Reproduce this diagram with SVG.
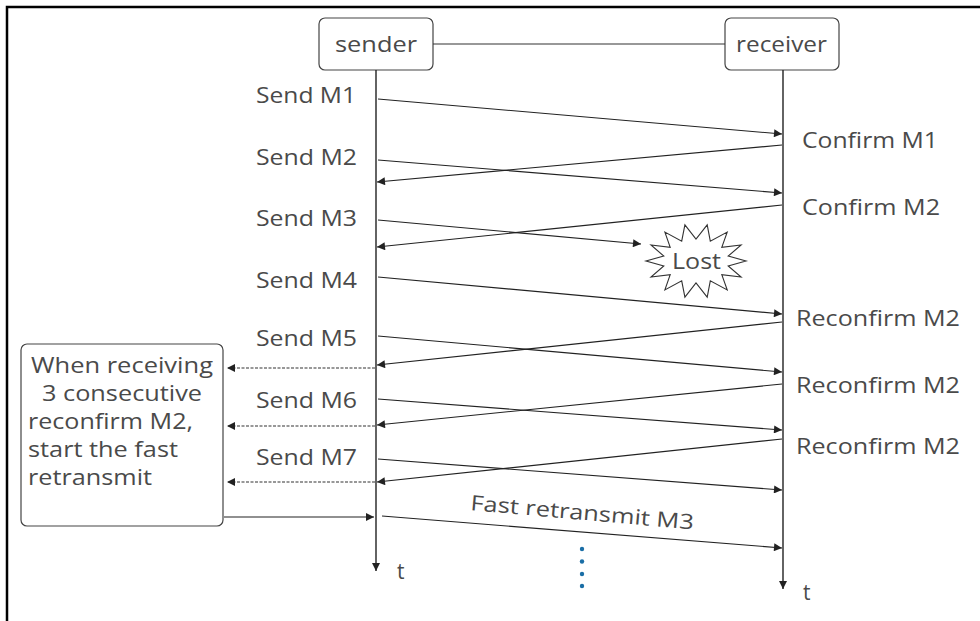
<svg xmlns="http://www.w3.org/2000/svg" width="980" height="621" viewBox="0 0 980 621">
  <defs>
    <marker id="arrow" viewBox="0 0 10 10" refX="10" refY="5" markerWidth="9" markerHeight="8" markerUnits="userSpaceOnUse" orient="auto">
      <path d="M0,0 L10,5 L0,10 z" fill="#222"/>
    </marker>
    <style>
      text { font-family: "Open Sans", "Noto Sans", "Liberation Sans", sans-serif; font-size: 21px; fill: #4a4a4a; }
      .note text { font-size: 22px; }
      .box { fill: #fff; stroke: #444; stroke-width: 1.2; }
      .msg { stroke: #222; stroke-width: 1.1; fill: none; marker-end: url(#arrow); }
      .dash { stroke: #333; stroke-width: 1.1; fill: none; stroke-dasharray: 3 1.5; marker-end: url(#arrow); }
      .life { stroke: #222; stroke-width: 1.4; fill: none; marker-end: url(#arrow); }
      .dot { fill: #1a6ea6; }
    </style>
  </defs>

  <rect width="980" height="621" fill="#fff"/>
  <!-- frame (open on the right and bottom) -->
  <rect x="7" y="7" width="1000" height="700" fill="none" stroke="#000" stroke-width="2.5"/>

  <!-- participants -->
  <g id="sender">
    <rect class="box" x="319" y="18" width="114" height="52" rx="6"/>
    <text x="335" y="52" textLength="82" lengthAdjust="spacingAndGlyphs">sender</text>
  </g>
  <g id="receiver">
    <rect class="box" x="725" y="18" width="114" height="52" rx="6"/>
    <text x="736" y="52" textLength="91" lengthAdjust="spacingAndGlyphs">receiver</text>
  </g>
  <g id="note" class="note">
    <rect class="box" x="21" y="344" width="202" height="182" rx="6"/>
    <text x="31" y="373" textLength="182" lengthAdjust="spacingAndGlyphs">When receiving</text>
    <text x="42" y="401" textLength="160" lengthAdjust="spacingAndGlyphs">3 consecutive</text>
    <text x="28" y="429" textLength="165" lengthAdjust="spacingAndGlyphs">reconfirm M2,</text>
    <text x="28" y="457" textLength="150" lengthAdjust="spacingAndGlyphs">start the fast</text>
    <text x="28" y="485" textLength="124" lengthAdjust="spacingAndGlyphs">retransmit</text>
  </g>
  <g id="lost">
    <polygon points="746,261 728.2,265.9 741.1,277.1 721.8,274.7 727.2,289.9 710.3,280.8 707.2,297.1 696,283 684.9,297.1 681.7,280.8 664.9,289.9 670.2,274.7 651,277.1 663.8,265.9 646,261 663.8,256.1 651,244.9 670.2,247.3 664.9,232.1 681.7,241.2 684.9,224.9 696,239 707.2,224.9 710.3,241.2 727.2,232.1 721.8,247.3 741.1,244.9 728.2,256.1" fill="#fff" stroke="#333" stroke-width="1.1"/>
    <text x="672" y="269" textLength="49" lengthAdjust="spacingAndGlyphs">Lost</text>
  </g>

  <!-- connectors -->
  <g id="connectors">
    <line x1="433" y1="44" x2="725" y2="44" stroke="#333" stroke-width="1.1"/>
    <line class="life" x1="376" y1="70" x2="376" y2="571"/>
    <line class="life" x1="783" y1="70" x2="783" y2="589"/>

    <!-- sender to receiver -->
    <line class="msg" x1="378" y1="99" x2="782" y2="134"/>
    <line class="msg" x1="378" y1="160" x2="782" y2="193"/>
    <line class="msg" x1="378" y1="220" x2="641" y2="244"/>
    <line class="msg" x1="378" y1="277" x2="782" y2="314"/>
    <line class="msg" x1="378" y1="336" x2="782" y2="372"/>
    <line class="msg" x1="378" y1="399" x2="782" y2="430"/>
    <line class="msg" x1="378" y1="459" x2="782" y2="490"/>
    <line class="msg" x1="382" y1="516" x2="782" y2="548"/>

    <!-- receiver to sender -->
    <line class="msg" x1="782" y1="145" x2="377" y2="182"/>
    <line class="msg" x1="782" y1="205" x2="377" y2="247"/>
    <line class="msg" x1="782" y1="322" x2="377" y2="365"/>
    <line class="msg" x1="782" y1="384" x2="377" y2="425"/>
    <line class="msg" x1="782" y1="439" x2="377" y2="482"/>

    <!-- sender to note -->
    <line class="dash" x1="375" y1="368" x2="227" y2="368"/>
    <line class="dash" x1="375" y1="426" x2="227" y2="426"/>
    <line class="dash" x1="375" y1="482" x2="227" y2="482"/>
    <line class="msg" x1="224" y1="517" x2="374" y2="517"/>
  </g>

  <!-- labels -->
  <g id="labels">
    <text x="256" y="103" textLength="100" lengthAdjust="spacingAndGlyphs">Send M1</text>
    <text x="256" y="165" textLength="101" lengthAdjust="spacingAndGlyphs">Send M2</text>
    <text x="256" y="226" textLength="101" lengthAdjust="spacingAndGlyphs">Send M3</text>
    <text x="256" y="288" textLength="101" lengthAdjust="spacingAndGlyphs">Send M4</text>
    <text x="256" y="346" textLength="101" lengthAdjust="spacingAndGlyphs">Send M5</text>
    <text x="256" y="408" textLength="101" lengthAdjust="spacingAndGlyphs">Send M6</text>
    <text x="256" y="465" textLength="101" lengthAdjust="spacingAndGlyphs">Send M7</text>

    <text x="802" y="148" textLength="136" lengthAdjust="spacingAndGlyphs">Confirm M1</text>
    <text x="802" y="215" textLength="138" lengthAdjust="spacingAndGlyphs">Confirm M2</text>
    <text x="796" y="326" textLength="164" lengthAdjust="spacingAndGlyphs">Reconfirm M2</text>
    <text x="796" y="393" textLength="164" lengthAdjust="spacingAndGlyphs">Reconfirm M2</text>
    <text x="796" y="454" textLength="164" lengthAdjust="spacingAndGlyphs">Reconfirm M2</text>

    <text transform="translate(470 510) rotate(5)" textLength="224" lengthAdjust="spacingAndGlyphs">Fast retransmit M3</text>

    <text x="397" y="579">t</text>
    <text x="803" y="600">t</text>
  </g>

  <!-- continuation dots -->
  <g id="ellipsis">
    <circle class="dot" cx="582" cy="549" r="2.2"/>
    <circle class="dot" cx="582" cy="561.5" r="2.2"/>
    <circle class="dot" cx="582" cy="574" r="2.2"/>
    <circle class="dot" cx="582" cy="586" r="2.2"/>
  </g>
</svg>
